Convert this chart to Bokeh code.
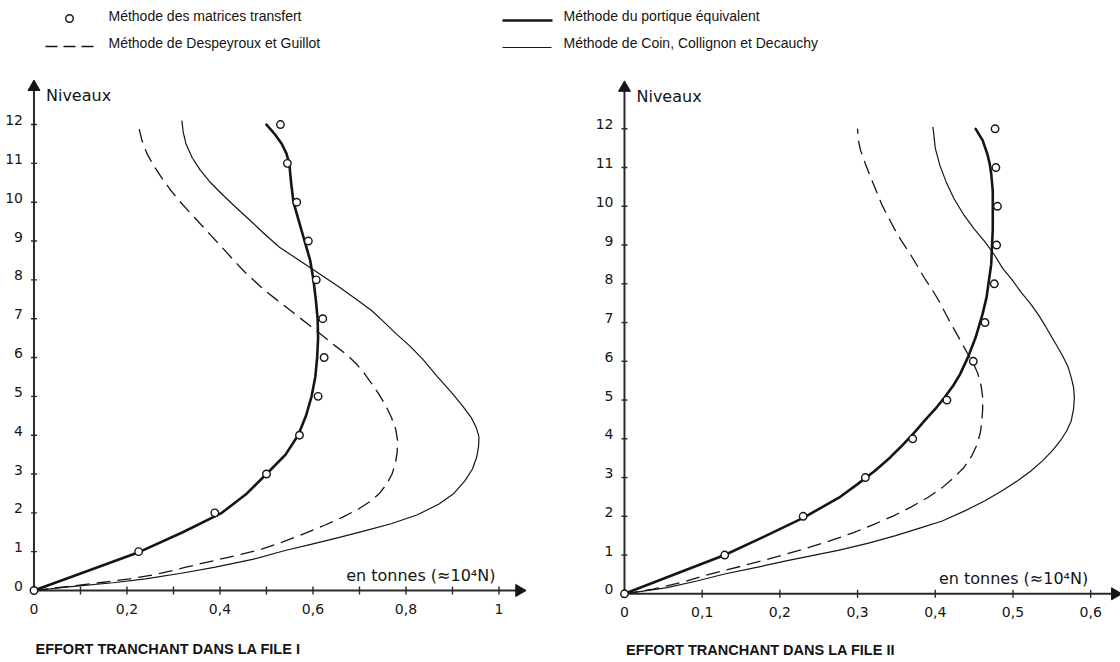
import math
from bokeh.plotting import figure
from bokeh.models import Range1d
from bokeh.core.properties import value
from bokeh.embed import file_html
from bokeh.resources import INLINE

# ---------------------------------------------------------------- data
LEVELS = list(range(13))

# Panel I (file I)
left_transfert = [0, 0.225, 0.389, 0.500, 0.571, 0.611, 0.624, 0.621, 0.607, 0.590, 0.565, 0.545, 0.530]
left_portique_lv = [0, 0.5, 1, 1.5, 2, 2.5, 3, 3.5, 4, 4.5, 5, 5.5, 6, 6.5, 7, 7.5, 8, 8.5, 9, 9.5, 10, 10.5,
                    11, 11.25, 11.5, 11.75, 12]
left_portique_x = [0, 0.115, 0.228, 0.320, 0.404, 0.458, 0.500, 0.541, 0.568, 0.585, 0.597, 0.605, 0.609, 0.611,
                   0.610, 0.606, 0.601, 0.594, 0.582, 0.570, 0.558, 0.553, 0.549, 0.543, 0.533, 0.518, 0.500]
left_despeyroux_lv = [0, 0.1, 0.2, 0.3, 0.4, 0.5, 0.6, 0.69, 0.86, 1.03, 1.25, 1.46, 1.68, 1.89, 2.1, 2.3, 2.5,
                      2.75, 3.0, 3.26, 3.55, 3.86, 4.15, 4.45, 4.75, 5.07, 5.35, 5.6, 5.84, 6.1, 6.3, 6.5, 6.87,
                      7.3, 7.73, 8.24, 8.54, 8.84, 9.14, 9.44, 9.74, 10.04, 10.34, 10.64, 10.95, 11.25, 11.6, 12.0]
left_despeyroux_x = [0, 0.070, 0.140, 0.205, 0.255, 0.293, 0.327, 0.358, 0.420, 0.480, 0.535, 0.580, 0.625, 0.664,
                     0.698, 0.724, 0.743, 0.759, 0.770, 0.777, 0.781, 0.782, 0.778, 0.769, 0.757, 0.741, 0.725,
                     0.710, 0.693, 0.670, 0.648, 0.627, 0.588, 0.542, 0.496, 0.450, 0.427, 0.404, 0.381, 0.358,
                     0.335, 0.312, 0.292, 0.274, 0.257, 0.243, 0.232, 0.224]
left_coin_lv = [0, 0.1, 0.2, 0.3, 0.45, 0.6, 0.8, 1.03, 1.2, 1.37, 1.55, 1.72, 1.95, 2.23, 2.5, 2.83, 3.13, 3.43,
                3.7, 3.95, 4.2, 4.46, 4.75, 5.07, 5.5, 5.97, 6.3, 6.61, 6.9, 7.21, 7.5, 7.81, 8.07, 8.33, 8.6,
                8.84, 9.2, 9.53, 9.87, 10.21, 10.5, 10.82, 11.15, 11.5, 11.8, 12.1]
left_coin_x = [0, 0.080, 0.170, 0.240, 0.320, 0.390, 0.470, 0.540, 0.600, 0.657, 0.715, 0.768, 0.825, 0.871,
               0.903, 0.927, 0.943, 0.952, 0.956, 0.957, 0.951, 0.940, 0.922, 0.900, 0.868, 0.835, 0.808, 0.779,
               0.754, 0.726, 0.693, 0.657, 0.625, 0.592, 0.558, 0.528, 0.494, 0.465, 0.434, 0.404, 0.380, 0.358,
               0.340, 0.327, 0.321, 0.318]
left_xtick_minor = [0.1, 0.2, 0.3, 0.4, 0.5, 0.6, 0.7, 0.8, 0.9, 1.0]
left_xtick_values = [0, 0.2, 0.4, 0.6, 0.8, 1.0]
left_xtick_labels = ["0", "0,2", "0,4", "0,6", "0,8", "1"]

# Panel II (file II)
right_transfert = [0, 0.129, 0.230, 0.310, 0.371, 0.415, 0.449, 0.464, 0.476, 0.479, 0.480, 0.478, 0.477]
right_portique_lv = [0, 0.5, 1.0, 1.45, 1.96, 2.48, 2.83, 3.17, 3.52, 3.86, 4.16, 4.46, 4.77, 5.07, 5.37, 5.67,
                     6.1, 6.62, 7.23, 7.65, 8.08, 8.5, 8.96, 9.4, 9.9, 10.4, 10.84, 11.1, 11.35, 11.7, 12]
right_portique_x = [0, 0.064, 0.129, 0.177, 0.230, 0.276, 0.300, 0.322, 0.342, 0.359, 0.373, 0.386, 0.400, 0.412,
                    0.423, 0.432, 0.442, 0.452, 0.461, 0.466, 0.469, 0.472, 0.473, 0.474, 0.474, 0.474, 0.472,
                    0.470, 0.467, 0.461, 0.452]
right_despeyroux_lv = [0, 0.12, 0.3, 0.51, 0.72, 0.94, 1.15, 1.37, 1.58, 1.8, 2.0, 2.23, 2.48, 2.74, 3.0, 3.26,
                       3.56, 3.86, 4.16, 4.46, 4.77, 5.07, 5.37, 5.67, 5.95, 6.22, 6.55, 6.87, 7.2, 7.55, 7.85,
                       8.15, 8.46, 8.76, 9.06, 9.36, 9.7, 10.05, 10.4, 10.74, 11.1, 11.43, 11.7, 12.0]
right_despeyroux_x = [0, 0.037, 0.075, 0.110, 0.152, 0.193, 0.230, 0.265, 0.295, 0.322, 0.345, 0.368, 0.390,
                      0.409, 0.424, 0.437, 0.447, 0.454, 0.458, 0.460, 0.461, 0.461, 0.459, 0.455, 0.449, 0.441,
                      0.432, 0.423, 0.414, 0.405, 0.396, 0.386, 0.377, 0.368, 0.358, 0.349, 0.340, 0.331, 0.324,
                      0.317, 0.310, 0.304, 0.301, 0.300]
right_coin_lv = [0, 0.16, 0.33, 0.51, 0.68, 0.85, 1.12, 1.3, 1.5, 1.7, 1.88, 2.14, 2.4, 2.66, 2.92, 3.17, 3.43,
                 3.7, 3.95, 4.2, 4.46, 4.77, 5.07, 5.33, 5.58, 5.85, 6.1, 6.35, 6.62, 6.9, 7.19, 7.5, 7.79, 8.1,
                 8.39, 8.75, 9.08, 9.42, 9.77, 10.2, 10.63, 11.05, 11.5, 12.05]
right_coin_x = [0, 0.055, 0.093, 0.129, 0.170, 0.208, 0.275, 0.313, 0.349, 0.381, 0.409, 0.438, 0.464, 0.486,
                0.506, 0.523, 0.538, 0.551, 0.561, 0.569, 0.575, 0.578, 0.579, 0.578, 0.575, 0.571, 0.565, 0.558,
                0.550, 0.542, 0.533, 0.522, 0.510, 0.499, 0.487, 0.476, 0.464, 0.450, 0.437, 0.424, 0.414, 0.406,
                0.400, 0.397]
right_xtick_minor = [0.1, 0.2, 0.3, 0.4, 0.5, 0.6]
right_xtick_values = [0, 0.1, 0.2, 0.3, 0.4, 0.5, 0.6]
right_xtick_labels = ["0", "0,1", "0,2", "0,3", "0,4", "0,5", "0,6"]

ytick_values = list(range(13))
ytick_labels = [str(v) for v in ytick_values]

legend_labels = ["Méthode des matrices transfert", "Méthode de Despeyroux et Guillot",
                 "Méthode du portique équivalent", "Méthode de Coin, Collignon et Decauchy"]
panel_titles = ["EFFORT TRANCHANT DANS LA FILE I", "EFFORT TRANCHANT DANS LA FILE II"]
axis_y_label = "Niveaux"
axis_x_label = "en tonnes   (≈10⁴N)"

# ---------------------------------------------------------------- styles
INK = "#151515"
AXIS_INK = "#2a2a2a"
TICK_FONT = value("DejaVu Sans")
LEG_FONT = value("Liberation Sans")
W, H = 1120, 662

# each panel has its own x / y scale on the shared canvas
LX = Range1d(-0.0720, 2.3366)
LY = Range1d(-1.854, 15.194)
RX = Range1d(-0.8031, 0.6384)
RY = Range1d(-1.773, 15.311)

p = figure(width=W, height=H, output_backend="svg", toolbar_location=None,
           x_range=LX, y_range=LY, x_axis_location=None, y_axis_location=None,
           min_border=0, outline_line_color=None)
p.grid.visible = False
p.background_fill_color = "white"
p.border_fill_color = "white"
p.extra_x_ranges = {"rx": RX, "px": Range1d(0, W)}
p.extra_y_ranges = {"ry": RY, "py": Range1d(H, 0)}


def panel(xr, yr, xname, yname, x_end, y_end, xminor, xvals, xlabels,
          transfert, portique, despeyroux, coin, title, title_dy, unit_dx):
    ppx = W / (xr.end - xr.start)      # pixels per x unit
    ppy = H / (yr.end - yr.start)      # pixels per level
    kw = dict(x_range_name=xname, y_range_name=yname)

    # axis lines
    p.segment(x0=[0, 0], y0=[0, 0], x1=[x_end - 6 / ppx, 0], y1=[0, y_end - 6 / ppy],
              line_color=AXIS_INK, line_width=2, **kw)
    # tick marks
    p.scatter(x=xminor, y=[0] * len(xminor), marker="dash", size=8, angle=math.pi / 2,
              line_color=AXIS_INK, line_width=1.4, **kw)
    p.scatter(x=[0] * 12, y=ytick_values[1:], marker="dash", size=6,
              line_color=AXIS_INK, line_width=1.4, **kw)
    # arrow heads
    p.scatter(x=[x_end - 4.4 / ppx], y=[0], marker="triangle", size=12, angle=-math.pi / 2,
              fill_color=INK, line_color=INK, **kw)
    p.scatter(x=[0], y=[y_end - 4.4 / ppy], marker="triangle", size=12,
              fill_color=INK, line_color=INK, **kw)
    # tick labels
    p.text(x=xvals, y=[0] * len(xvals), text=xlabels, text_align="center", text_baseline="middle",
           y_offset=18, text_font=TICK_FONT, text_font_size="14px", text_color=INK, **kw)
    p.text(x=[0] * len(ytick_values), y=ytick_values, text=ytick_labels, text_align="right",
           text_baseline="middle", x_offset=-11, y_offset=-4.5, text_font=TICK_FONT,
           text_font_size="14px", text_color=INK, **kw)
    # axis titles
    p.text(x=[0], y=[y_end], text=[axis_y_label], text_align="left", text_baseline="middle",
           x_offset=12, y_offset=13, text_font=TICK_FONT, text_font_size="16px", text_color=INK, **kw)
    p.text(x=[x_end], y=[0], text=[axis_x_label], text_align="right", text_baseline="middle",
           x_offset=unit_dx, y_offset=-15, text_font=TICK_FONT, text_font_size="16px", text_color=INK, **kw)
    # panel caption
    p.text(x=[0], y=[0], text=[title], text_align="left", text_baseline="middle",
           x_offset=1.5, y_offset=title_dy, text_font=LEG_FONT, text_font_size="14.5px",
           text_font_style="bold", text_color=INK, **kw)

    # curves
    p.line(x=coin[1], y=coin[0], line_color=INK, line_width=1.2, line_join="round", **kw)
    p.line(x=despeyroux[1], y=despeyroux[0], line_color=INK, line_width=1.3,
           line_dash="14 7", line_join="round", **kw)
    p.line(x=portique[1], y=portique[0], line_color=INK, line_width=2.6, line_join="round",
           line_cap="round", **kw)
    p.scatter(x=transfert, y=LEVELS, marker="circle", size=7.5, fill_color="white",
              line_color=INK, line_width=1.4, **kw)


panel(LX, LY, "default", "default", 1.053, 13.08, left_xtick_minor, left_xtick_values, left_xtick_labels,
      left_transfert, (left_portique_lv, left_portique_x), (left_despeyroux_lv, left_despeyroux_x),
      (left_coin_lv, left_coin_x), panel_titles[0], 58, -18)
panel(RX, RY, "rx", "ry", 0.637, 13.17, right_xtick_minor, right_xtick_values, right_xtick_labels,
      right_transfert, (right_portique_lv, right_portique_x), (right_despeyroux_lv, right_despeyroux_x),
      (right_coin_lv, right_coin_x), panel_titles[1], 56, -21)

# ---------------------------------------------------------------- legend (screen pixel units)
lk = dict(x_range_name="px", y_range_name="py")
p.scatter(x=[69], y=[18], marker="circle", size=7.5, fill_color="white", line_color=INK, line_width=1.4, **lk)
p.segment(x0=[45], y0=[46], x1=[93], y1=[46], line_color=INK, line_width=1.6, line_dash="12 6", **lk)
p.segment(x0=[502], y0=[20], x1=[552], y1=[20], line_color=INK, line_width=2.6, **lk)
p.segment(x0=[502], y0=[47], x1=[551], y1=[47], line_color=INK, line_width=1.2, **lk)
p.text(x=[108, 108, 563, 563], y=[15, 42, 15, 42], text=legend_labels, text_align="left",
       text_baseline="middle", text_font=LEG_FONT, text_font_size="14px", text_color=INK, **lk)

open("out.html", "w").write(file_html(p, INLINE))
